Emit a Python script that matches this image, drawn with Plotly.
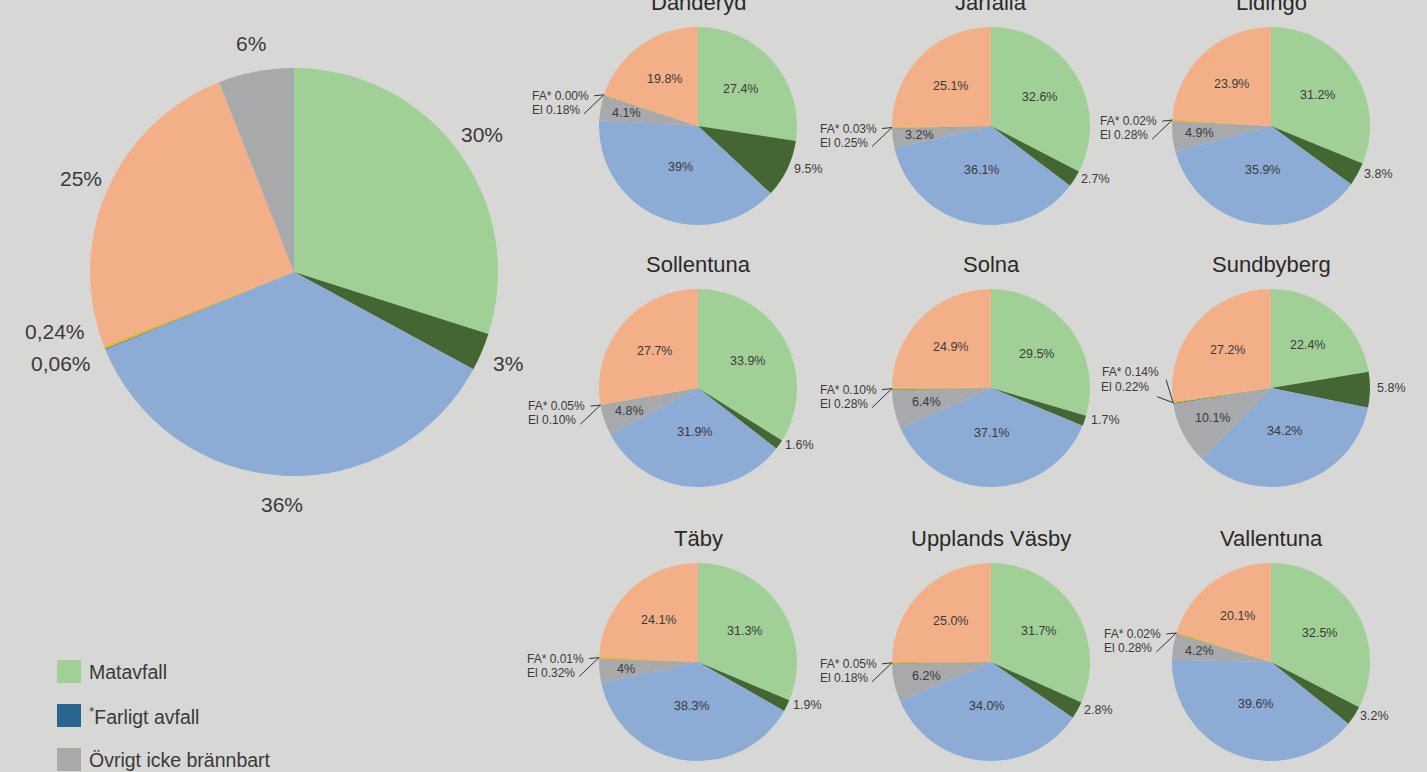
import math
import plotly.graph_objects as go

W, H = 1427, 772

# ---------------- data ----------------
categories = ["Matavfall", "Trädgårdsavfall", "Övrigt brännbart", "Övrigt icke brännbart",
              "Farligt avfall", "Elavfall", "Förpackningar och tidningar"]
colors = {
    "Matavfall": "#a0d096",
    "Trädgårdsavfall": "#436633",
    "Övrigt brännbart": "#8cabd5",
    "Övrigt icke brännbart": "#a7a9ab",
    "Farligt avfall": "#2a6690",
    "Elavfall": "#e6b62c",
    "Förpackningar och tidningar": "#f3b088",
}

# Overall pie (order as drawn clockwise from 12 o'clock)
total_order = ["Matavfall", "Trädgårdsavfall", "Övrigt brännbart", "Farligt avfall",
               "Elavfall", "Förpackningar och tidningar", "Övrigt icke brännbart"]
total_values = [30, 3, 36, 0.06, 0.24, 25, 6]
total_labels = ["30%", "3%", "36%", "0,06%", "0,24%", "25%", "6%"]

municipalities = ["Danderyd", "Järfälla", "Lidingö", "Sollentuna", "Solna",
                  "Sundbyberg", "Täby", "Upplands Väsby", "Vallentuna"]
matavfall = [27.4, 32.6, 31.2, 33.9, 29.5, 22.4, 31.3, 31.7, 32.5]
tradgard = [9.5, 2.7, 3.8, 1.6, 1.7, 5.8, 1.9, 2.8, 3.2]
brannbart = [39, 36.1, 35.9, 31.9, 37.1, 34.2, 38.3, 34.0, 39.6]
icke_brannbart = [4.1, 3.2, 4.9, 4.8, 6.4, 10.1, 4, 6.2, 4.2]
farligt = [0.00, 0.03, 0.02, 0.05, 0.10, 0.14, 0.01, 0.05, 0.02]
elavfall = [0.18, 0.25, 0.28, 0.10, 0.28, 0.22, 0.32, 0.18, 0.28]
forpackningar = [19.8, 25.1, 23.9, 27.7, 24.9, 27.2, 24.1, 25.0, 20.1]
# values printed without a decimal in the source
no_decimal = {("Danderyd", "Övrigt brännbart"), ("Täby", "Övrigt icke brännbart")}

small_order = ["Matavfall", "Trädgårdsavfall", "Övrigt brännbart", "Övrigt icke brännbart",
               "Farligt avfall", "Elavfall", "Förpackningar och tidningar"]

legend_items = ["Matavfall", "<sup>*</sup>Farligt avfall", "Övrigt icke brännbart"]
legend_keys = ["Matavfall", "Farligt avfall", "Övrigt icke brännbart"]

# ---------------- layout helpers ----------------
FONT = "Liberation Sans, Arial, sans-serif"
TXT = "#3a3a3a"
BG = "#d7d7d5"

def px(x, y):
    return x / W, 1 - y / H

fig = go.Figure()
annotations = []
shapes = []

def add_pie(values, order, cx, cy, r):
    fig.add_trace(go.Pie(
        values=values, labels=order, sort=False, direction="clockwise", rotation=0,
        marker=dict(colors=[colors[c] for c in order], line=dict(width=0)),
        textinfo="none", hoverinfo="label+percent", showlegend=False,
        domain=dict(x=[(cx - r) / W, (cx + r) / W], y=[1 - (cy + r) / H, 1 - (cy - r) / H]),
    ))

def point(cx, cy, r, frac, k):
    t = 2 * math.pi * frac
    return cx + k * r * math.sin(t), cy - k * r * math.cos(t)

def ann(x, y, text, size, xanchor="center", color=TXT):
    ax, ay = px(x, y)
    annotations.append(dict(x=ax, y=ay, xref="paper", yref="paper", text=text, showarrow=False,
                            xanchor=xanchor, yanchor="middle",
                            font=dict(family=FONT, size=size, color=color)))

def line(x0, y0, x1, y1):
    a0, b0 = px(x0, y0)
    a1, b1 = px(x1, y1)
    shapes.append(dict(type="line", xref="paper", yref="paper", x0=a0, y0=b0, x1=a1, y1=b1,
                       line=dict(color="#333333", width=1)))

# ---------------- overall pie ----------------
BCX, BCY, BR = 294, 272, 204
add_pie(total_values, total_order, BCX, BCY, BR)
tot = sum(total_values)
cum = 0
mids = []
for v in total_values:
    mids.append((cum + v / 2) / tot)
    cum += v
for cat, lab, m in zip(total_order, total_labels, mids):
    if cat in ("Farligt avfall", "Elavfall"):
        continue
    x, y = point(BCX, BCY, BR, m, 1.14)
    ann(x, y, lab, 21)
i_fa = total_order.index("Farligt avfall")
i_ei = total_order.index("Elavfall")
mfe = (sum(total_values[:i_fa]) + (total_values[i_fa] + total_values[i_ei]) / 2) / tot
px_, py_ = point(BCX, BCY, BR, mfe, 1.0)
ann(px_ - 18, py_ - 16, total_labels[i_ei], 21, xanchor="right")
ann(px_ - 12, py_ + 16, total_labels[i_fa], 21, xanchor="right")

# ---------------- small pies ----------------
col_x = [698, 991, 1271]
row_y = [126, 388, 662]
SR = 99
fa_block_above = {"Sundbyberg"}
factor = {"Matavfall": 0.57, "Övrigt brännbart": 0.45, "Förpackningar och tidningar": 0.58}

series = {
    "Matavfall": matavfall, "Trädgårdsavfall": tradgard, "Övrigt brännbart": brannbart,
    "Övrigt icke brännbart": icke_brannbart, "Farligt avfall": farligt, "Elavfall": elavfall,
    "Förpackningar och tidningar": forpackningar,
}

for i, name in enumerate(municipalities):
    cx = col_x[i % 3]
    cy = row_y[i // 3]
    vals = [series[c][i] for c in small_order]
    add_pie(vals, small_order, cx, cy, SR)
    tot = sum(vals)
    ann(cx, cy - SR - 25, name, 22, color="#2a2a2a")
    cum = 0
    for cat, v in zip(small_order, vals):
        m = (cum + v / 2) / tot
        cum += v
        text = (f"{v:.0f}%" if (name, cat) in no_decimal else f"{v:.1f}%")
        if cat in ("Farligt avfall", "Elavfall"):
            continue
        if cat == "Trädgårdsavfall":
            x, y = point(cx, cy, SR, m, 1.04)
            ann(x + 1, y - 2, text, 12.5, xanchor="left")
        else:
            k = factor.get(cat, 0.73 if v < 5.5 else 0.67)
            x, y = point(cx, cy, SR, m, k)
            ann(x, y, text, 12.5)
    # FA / EI callout
    i_fa = small_order.index("Farligt avfall")
    mfe = (sum(vals[:i_fa]) + (vals[i_fa] + vals[i_fa + 1]) / 2) / tot
    qx, qy = point(cx, cy, SR, mfe, 1.0)
    fa_txt = f"FA* {farligt[i]:.2f}%"
    ei_txt = f"El {elavfall[i]:.2f}%"
    if name in fa_block_above:
        ann(qx - 12, qy - 31, fa_txt, 12, xanchor="right")
        ann(qx - 22, qy - 16, ei_txt, 12, xanchor="right")
        line(qx - 7, qy - 23, qx, qy)
        line(qx - 16, qy - 6, qx, qy)
    else:
        ann(qx - 13, qy + 1, fa_txt, 12, xanchor="right")
        ann(qx - 22, qy + 15, ei_txt, 12, xanchor="right")
        line(qx - 10, qy + 1, qx, qy)
        line(qx - 20, qy + 19, qx, qy)

# ---------------- legend ----------------
for j, (lab, key) in enumerate(zip(legend_items, legend_keys)):
    yc = 672 + j * 44
    a0, b0 = px(57, yc - 12)
    a1, b1 = px(81, yc + 11)
    shapes.append(dict(type="rect", xref="paper", yref="paper", x0=a0, y0=b1, x1=a1, y1=b0,
                       fillcolor=colors[key], line=dict(width=0)))
    ann(87, yc, lab, 19.5, xanchor="left")

fig.update_layout(
    width=W, height=H, margin=dict(l=0, r=0, t=0, b=0),
    paper_bgcolor=BG, plot_bgcolor=BG,
    annotations=annotations, shapes=shapes, showlegend=False,
)
fig.write_html(
    "out.html",
    config={"displayModeBar": False},
    post_script=f"document.body.style.margin='0';document.body.style.background='{BG}';",
)
